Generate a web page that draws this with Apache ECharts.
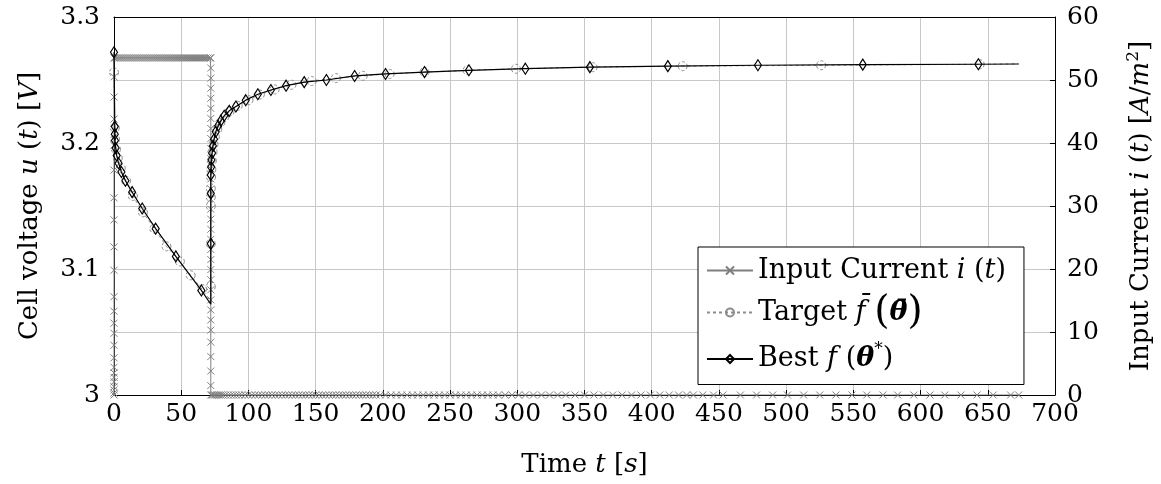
<!DOCTYPE html>
<html>
<head>
<meta charset="utf-8">
<script src="https://cdn.jsdelivr.net/npm/echarts@6/dist/echarts.min.js"></script>
<style>
html,body{margin:0;padding:0;background:#fff;}
#chart{width:1161px;height:484px;}
</style>
</head>
<body>
<div id="chart"></div>
<script>
// ---------- data ----------
// Input current i(t) [A/m^2]
const currentRampUpI = [0, 0.3, 0.8, 1.3, 2.1, 2.8, 3.5, 4.4, 5.9, 7.9, 9.8, 11.4, 13.3, 15.6, 19.8, 23.5, 27.8, 31.3, 35.7, 39.6, 43.8, 47.3, 50.5, 53.5]; // at t = 0
const pulseT = [1, 2.5, 4, 5.5, 7, 8.5, 10, 11.5, 13, 14.5, 16, 17.5, 19, 20.5, 22, 23.5, 25, 26.5, 28, 29.5, 31, 32.5, 34, 35.5, 37, 38.5, 40, 41.5, 43, 44.5, 46, 47.5, 49, 50.5, 52, 53.5, 55, 56.5, 58, 59.5, 61, 62.5, 64, 65.5, 67, 68.5, 70, 71.5];
const pulseLevel = 53.5;
const pulseEnd = 72;
const currentRampDownI = [53.5, 51.9, 50.3, 48.7, 47.1, 45.5, 43.9, 42.3, 40.7, 39.1, 37.5, 35.9, 34.3, 32.7, 31.1, 29.5, 27.9, 26.3, 24.7, 23.1, 21.5, 19.9, 18.3, 16.7, 15.1, 13.5, 11.9, 10.3, 8.4, 6.1, 3.8, 1.5, 0];
const restT = [73, 74, 75, 76.5, 78, 79.5, 81, 83, 85, 87, 89, 91, 93, 95, 97.5, 100, 102.5, 105, 107.5, 110, 112.5, 115, 117.5, 120, 122.5, 125, 127.5, 130, 132.5, 135, 137.5, 140, 142.5, 145, 147.5, 150, 152.5, 155, 157.5, 160, 162.5, 165, 167.5, 170, 172.5, 175, 177.5, 180, 182.5, 185, 187.5, 190, 192.5, 195, 198,
  202, 206, 210, 214, 218, 222, 226, 230, 234, 238, 242, 246, 250, 254, 258, 262, 266, 270, 274, 278, 282, 286,
  291, 296, 301, 306, 312, 318, 324, 330, 336, 343, 350, 357, 364, 371, 378, 385, 392, 399, 406, 413, 420, 426, 431, 438, 446, 453,
  466, 478, 490, 501, 513, 525, 537, 549, 560, 572, 583, 595, 607, 618, 630, 642, 654, 667, 673];

// Target f-bar(theta-bar): cell voltage [V]
const targetT = [0, 0.6, 0.8, 1.5, 2.8, 5, 9, 14, 21.5, 30, 39, 49, 57, 65.5, 72, 72, 72, 72, 72, 72, 72.2, 72.4, 72.8, 73.3, 74, 75, 76.8, 79, 82, 86, 92, 100, 108.5, 119.5, 132, 147, 165, 185, 205, 231, 263, 299, 356, 423, 526, 644, 673];
const targetV = [3.256, 3.212, 3.203, 3.195, 3.188, 3.180, 3.170, 3.158, 3.145, 3.132, 3.118, 3.106, 3.095, 3.084, 3.074, 3.086, 3.120, 3.150, 3.157, 3.164, 3.173, 3.179, 3.186, 3.193, 3.199, 3.205, 3.211, 3.216, 3.2205, 3.225, 3.2295, 3.234, 3.2385, 3.2425, 3.2462, 3.2492, 3.2515, 3.2533, 3.2548, 3.2563, 3.2577, 3.2589, 3.2602, 3.2610, 3.2617, 3.2625, 3.2628];

// Best f(theta*): cell voltage [V]
const bestT = [0, 0.6, 0.6, 0.7, 1.2, 2, 3.4, 5.5, 8.5, 13.5, 21, 31, 46, 65, 72, 72, 72, 72, 72.3, 72.5, 73, 73.6, 74.4, 75.7, 77.5, 79.5, 82, 85.7, 90.7, 98, 107, 116.7, 128, 141.5, 158, 179, 202, 231, 264, 306, 354, 412, 479, 557, 643, 673];
const bestV = [3.272, 3.213, 3.207, 3.202, 3.196, 3.190, 3.184, 3.177, 3.170, 3.161, 3.148, 3.132, 3.110, 3.083, 3.072, 3.120, 3.160, 3.1746, 3.181, 3.1865, 3.192, 3.1977, 3.203, 3.209, 3.2137, 3.2176, 3.2216, 3.2255, 3.229, 3.234, 3.2387, 3.2421, 3.2455, 3.2483, 3.250, 3.2532, 3.2548, 3.2563, 3.2577, 3.2590, 3.2602, 3.2610, 3.2617, 3.2622, 3.2625, 3.2627];

const voltageTickLabels = ['3', '3.1', '3.2', '3.3'];
const seriesNames = ['Input Current', 'Target', 'Best'];

// ---------- build ----------
const currentData = []
  .concat(currentRampUpI.map(i => [0, i]))
  .concat(pulseT.map(t => [t, pulseLevel]))
  .concat(currentRampDownI.map(i => [pulseEnd, i]))
  .concat(restT.map(t => [t, 0]));

// points without a mark: the last point and the corner (local minimum) of the curve
function buildCurve(ts, vs) {
  return ts.map((t, k) => {
    const last = k === ts.length - 1;
    const corner = k > 0 && !last && vs[k] < vs[k - 1] && vs[k] < vs[k + 1];
    return (last || corner) ? { value: [t, vs[k]], symbol: 'none' } : [t, vs[k]];
  });
}

const FONT = 'DejaVu Serif';
const FS = 25;   // tick labels
const TS = 26;   // axis titles
const LS = 27;   // legend
const crossPath = 'path://M0,0L10,10M10,0L0,10';
const gridColor = '#c8c8c8';

function makeRich(size, lh) {
  return {
    r: { fontFamily: FONT, fontSize: size, color: '#000', lineHeight: lh },
    i: { fontFamily: FONT, fontSize: size, fontStyle: 'italic', color: '#000', lineHeight: lh },
    b: { fontFamily: FONT, fontSize: size, fontStyle: 'italic', fontWeight: 'bold', color: '#000', lineHeight: lh },
    big: { fontFamily: FONT, fontSize: Math.round(size * 1.45), color: '#000', lineHeight: lh + 10 },
    sup: { fontFamily: FONT, fontSize: Math.round(size * 0.64), color: '#000', verticalAlign: 'top', padding: [0, 0, 12, 0], lineHeight: lh }
  };
}
const titleRich = makeRich(TS, 32);
const legendRich = makeRich(LS, 36);

const chart = echarts.init(document.getElementById('chart'), null, { renderer: 'canvas' });
chart.setOption({
  animation: false,
  backgroundColor: '#fff',
  grid: { left: 114, right: 106, top: 17, bottom: 89, containLabel: false, outerBoundsMode: 'none' },
  legend: {
    orient: 'vertical',
    left: 698,
    top: 247,
    padding: [10, 18, 12, 8],
    itemGap: 9,
    itemWidth: 46,
    itemHeight: 10,
    backgroundColor: '#fff',
    borderColor: '#000',
    borderWidth: 1,
    borderRadius: 0,
    data: seriesNames,
    textStyle: { fontFamily: FONT, fontSize: LS, color: '#000', rich: legendRich },
    formatter: function (name) {
      if (name === 'Input Current') return '{r|Input Current }{i|i}{r| (}{i|t}{r|)}';
      if (name === 'Target') return '{r|Target }{i|f\u0304}{r| }{big|(}{b|\u03B8\u0304}{big|)}';
      return '{r|Best }{i|f}{r| (}{b|\u03B8}{sup|*}{r|)}';
    }
  },
  xAxis: [{
    type: 'value', min: 0, max: 700, interval: 50,
    axisLine: { show: true, onZero: false, lineStyle: { color: '#000', width: 1 } },
    axisTick: { show: true, inside: true, length: 5, lineStyle: { color: '#000' } },
    axisLabel: { fontFamily: FONT, fontSize: FS, color: '#000', margin: 7 },
    splitLine: { show: true, lineStyle: { color: gridColor, width: 1 } },
    name: '{r|Time }{i|t}{r| [}{i|s}{r|]}',
    nameLocation: 'middle', nameGap: 54,
    nameTextStyle: { rich: titleRich }
  }, {
    type: 'value', min: 0, max: 700, interval: 50, position: 'top',
    axisLine: { show: true, onZero: false, lineStyle: { color: '#000', width: 1 } },
    axisTick: { show: false }, axisLabel: { show: false }, splitLine: { show: false }
  }],
  yAxis: [{
    type: 'value', min: 3, max: 3.3, interval: 0.05,
    axisLine: { show: true, onZero: false, lineStyle: { color: '#000', width: 1 } },
    axisTick: { show: false },
    axisLabel: {
      fontFamily: FONT, fontSize: FS, color: '#000', margin: 14,
      formatter: function (v) {
        const r = Math.round(v * 100);
        if (r % 10 !== 0) return '';
        return voltageTickLabels[(r - 300) / 10];
      }
    },
    splitLine: { show: true, lineStyle: { color: gridColor, width: 1 } },
    name: '{r|Cell voltage }{i|u}{r| (}{i|t}{r|) [}{i|V}{r|]}',
    nameLocation: 'middle', nameGap: 68, nameRotate: 90,
    nameTextStyle: { rich: titleRich }
  }, {
    type: 'value', min: 0, max: 60, interval: 10, position: 'right',
    axisLine: { show: true, onZero: false, lineStyle: { color: '#000', width: 1 } },
    axisTick: { show: true, inside: true, length: 5, lineStyle: { color: '#000' } },
    axisLabel: { fontFamily: FONT, fontSize: FS, color: '#000', margin: 12 },
    splitLine: { show: false },
    name: '{r|Input Current }{i|i}{r| (}{i|t}{r|) [}{i|A}{r|/}{i|m}{sup|2}{r|]}',
    nameLocation: 'middle', nameGap: 70, nameRotate: 90,
    nameTextStyle: { rich: titleRich }
  }],
  series: [{
    name: 'Input Current', type: 'line', xAxisIndex: 0, yAxisIndex: 1,
    data: currentData,
    showAllSymbol: true,
    symbol: crossPath, symbolSize: 7,
    lineStyle: { color: '#7f7f7f', width: 1 },
    itemStyle: { color: 'rgba(0,0,0,0)', borderColor: '#7f7f7f', borderWidth: 1 },
    z: 2
  }, {
    name: 'Target', type: 'line', xAxisIndex: 0, yAxisIndex: 0,
    data: buildCurve(targetT, targetV),
    showAllSymbol: true,
    symbol: 'circle', symbolSize: 9,
    lineStyle: { color: '#8c8c8c', width: 1, type: [3, 3] },
    itemStyle: { color: 'rgba(0,0,0,0)', borderColor: '#8c8c8c', borderWidth: 1, borderType: [3, 2] },
    z: 3
  }, {
    name: 'Best', type: 'line', xAxisIndex: 0, yAxisIndex: 0,
    data: buildCurve(bestT, bestV),
    showAllSymbol: true,
    symbol: 'diamond', symbolSize: [7, 11],
    lineStyle: { color: '#000', width: 1.2 },
    itemStyle: { color: 'rgba(0,0,0,0)', borderColor: '#000', borderWidth: 1.2 },
    z: 4
  }]
});
</script>
</body>
</html>
